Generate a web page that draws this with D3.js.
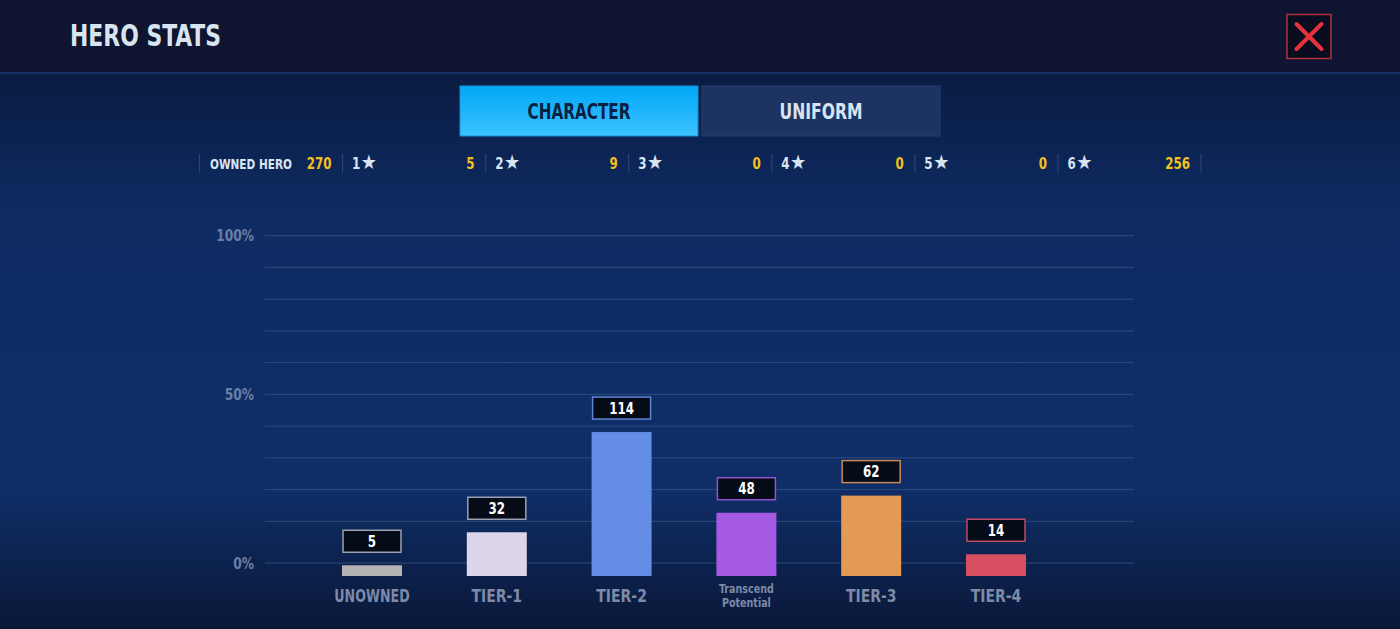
<!DOCTYPE html>
<html>
<head>
<meta charset="utf-8">
<script src="https://cdn.jsdelivr.net/npm/d3@7"></script>
<style>
  html, body { margin: 0; padding: 0; background: #0a1c42; overflow: hidden; }
  svg { display: block; }
  text { font-family: "DejaVu Sans Condensed", "Roboto", sans-serif; font-weight: bold; }
</style>
</head>
<body>
<svg id="chart" width="1400" height="629"></svg>
<script>
// ---------------- data ----------------
const categories = ["UNOWNED", "TIER-1", "TIER-2", "Transcend Potential", "TIER-3", "TIER-4"];
const counts = [5, 32, 114, 48, 62, 14];
const ownedTotal = 270;
const starLevels = ["1", "2", "3", "4", "5", "6"];
const starCounts = [5, 9, 0, 0, 0, 256];
const gridTicks = [0, 10, 20, 30, 40, 50, 60, 70, 80, 90, 100];
const yTickLabels = [0, 50, 100];
const tabs = ["CHARACTER", "UNIFORM"];

// ---------------- styles ----------------
const barColors = ["#b4b4b4", "#ddd5ea", "#648de6", "#a55ae3", "#e39a55", "#d94f62"];
const boxStroke = ["#9ea2ae", "#9aa0b8", "#5f86d6", "#8f55d0", "#c8885a", "#c04a60"];

const W = 1400, H = 629;
const svg = d3.select("#chart");
const defs = svg.append("defs");

// condense helper: the game font is narrower than the installed fonts
function narrow(sel, k) {
  sel.each(function () {
    const w = this.getComputedTextLength();
    d3.select(this).attr("textLength", w * k).attr("lengthAdjust", "spacingAndGlyphs");
  });
  return sel;
}

const bg = defs.append("linearGradient").attr("id", "bg").attr("x1", 0).attr("y1", 0).attr("x2", 0).attr("y2", 1);
[[0, "#0a1c42"], [0.25, "#0e2b62"], [0.75, "#0f2e68"], [0.83, "#0d2758"], [1, "#0a1838"]]
  .forEach(([o, c]) => bg.append("stop").attr("offset", o).attr("stop-color", c));

const tabG = defs.append("linearGradient").attr("id", "tabG").attr("x1", 0).attr("y1", 0).attr("x2", 0).attr("y2", 1);
[[0, "#00a8f6"], [1, "#3cc2ff"]].forEach(([o, c]) => tabG.append("stop").attr("offset", o).attr("stop-color", c));

// background
svg.append("rect").attr("x", 0).attr("y", 72).attr("width", W).attr("height", H - 72).attr("fill", "url(#bg)");
// header
svg.append("rect").attr("x", 0).attr("y", 0).attr("width", W).attr("height", 72).attr("fill", "#0f1430");
svg.append("rect").attr("x", 0).attr("y", 72).attr("width", W).attr("height", 2).attr("fill", "#15306a");
svg.append("text").attr("x", 70).attr("y", 45.5).attr("font-size", 30).attr("fill", "#d8e4f0")
  .attr("textLength", 151).attr("lengthAdjust", "spacingAndGlyphs").text("HERO STATS");

// close button
svg.append("rect").attr("x", 1287).attr("y", 14.5).attr("width", 44).attr("height", 44)
  .attr("fill", "#0a0d20").attr("stroke", "#b0303a").attr("stroke-width", 1.5);
const cx = 1309, cy = 36.5, r = 12.5;
svg.append("path").attr("d", `M${cx - r},${cy - r}L${cx + r},${cy + r}M${cx + r},${cy - r}L${cx - r},${cy + r}`)
  .attr("stroke", "#e5333b").attr("stroke-width", 4).attr("stroke-linecap", "round");

// tabs
const tabX = d3.scaleBand().domain(tabs).range([460, 940]).paddingInner(0.0166);
tabs.forEach((t, i) => {
  svg.append("rect").attr("x", tabX(t)).attr("y", 86).attr("width", tabX.bandwidth()).attr("height", 50)
    .attr("fill", i === 0 ? "url(#tabG)" : "#1d3462")
    .attr("stroke", i === 0 ? "#1a8fd0" : "#253f70").attr("stroke-width", 1);
  svg.append("text").attr("x", tabX(t) + tabX.bandwidth() / 2).attr("y", 119)
    .attr("text-anchor", "middle").attr("font-size", 22)
    .attr("fill", i === 0 ? "#0a2040" : "#d8e4f0")
    .attr("textLength", i === 0 ? 103 : 83).attr("lengthAdjust", "spacingAndGlyphs").text(t);
});

// stats row
const statX = d3.scaleLinear().domain([0, 7]).range([199.5, 1201]);
const sepColor = "#2b4272";
d3.range(8).forEach(i => {
  svg.append("line").attr("x1", statX(i)).attr("x2", statX(i)).attr("y1", 154).attr("y2", 173)
    .attr("stroke", sepColor).attr("stroke-width", 1.2);
});
svg.append("text").attr("x", statX(0) + 10.5).attr("y", 168.5).attr("font-size", 13.5).attr("fill", "#d8e4f0")
  .attr("textLength", 82).attr("lengthAdjust", "spacingAndGlyphs").text("OWNED HERO");
narrow(svg.append("text").attr("x", statX(1) - 11).attr("y", 169).attr("font-size", 16.5).attr("fill", "#f4c020")
  .attr("text-anchor", "end").text(ownedTotal), 0.8);
starLevels.forEach((s, i) => {
  const t = svg.append("text").attr("x", statX(i + 1) + 9.5).attr("y", 169).attr("fill", "#d8e4f0");
  narrow(t.append("tspan").attr("font-size", 16.5).text(s), 0.8);
  t.append("tspan").attr("font-size", 20).attr("dx", 0.5).text("★");
  narrow(svg.append("text").attr("x", statX(i + 2) - 11).attr("y", 169).attr("font-size", 16.5).attr("fill", "#f4c020")
    .attr("text-anchor", "end").text(starCounts[i]), 0.8);
});

// grid (decorative axis, 0% line sits lower than the 10% spacing)
const gridY = d3.scaleLinear().domain([0, 10, 100]).range([563, 521.3, 235.7]);
svg.append("g").selectAll("line").data(gridTicks).join("line")
  .attr("x1", 265).attr("x2", 1134)
  .attr("y1", d => gridY(d)).attr("y2", d => gridY(d))
  .attr("stroke", "#3a5586").attr("stroke-opacity", 0.75).attr("stroke-width", 1);
narrow(svg.append("g").selectAll("text").data(yTickLabels).join("text")
  .attr("x", 254).attr("y", d => gridY(d)).attr("dy", "0.36em")
  .attr("text-anchor", "end").attr("font-size", 16).attr("fill", "#6b7fa6")
  .text(d => d + "%"), 0.85);

// bars
const pct = counts.map(c => c / ownedTotal * 100);
const x = d3.scalePoint().domain(categories).range([372, 996]);
const barW = 60;
const y = d3.scaleLinear().domain([-1.4, 100]).range([576, 241.4]);
const base = y(-1.4);

const g = svg.append("g");
g.selectAll("rect.bar").data(categories).join("rect").attr("class", "bar")
  .attr("x", d => x(d) - barW / 2).attr("width", barW)
  .attr("y", (d, i) => y(pct[i])).attr("height", (d, i) => base - y(pct[i]))
  .attr("fill", (d, i) => barColors[i]);

// value label boxes
g.selectAll("rect.box").data(categories).join("rect").attr("class", "box")
  .attr("x", d => x(d) - 29).attr("width", 58)
  .attr("y", (d, i) => y(pct[i]) - 13 - 22).attr("height", 22)
  .attr("fill", "#060b18").attr("stroke", (d, i) => boxStroke[i]).attr("stroke-width", 1.5);
narrow(g.selectAll("text.val").data(categories).join("text").attr("class", "val")
  .attr("x", d => x(d)).attr("y", (d, i) => y(pct[i]) - 13 - 5.5)
  .attr("text-anchor", "middle").attr("font-size", 16.5).attr("fill", "#ffffff")
  .text((d, i) => counts[i]), 0.8);

// x labels
categories.forEach(c => {
  if (c === "Transcend Potential") {
    const t = svg.append("text").attr("x", x(c)).attr("text-anchor", "middle").attr("font-size", 12.5).attr("fill", "#7d8aa8");
    narrow(t.append("tspan").attr("x", x(c)).attr("y", 593).text("Transcend"), 0.85);
    narrow(t.append("tspan").attr("x", x(c)).attr("y", 607).text("Potential"), 0.85);
  } else {
    narrow(svg.append("text").attr("x", x(c)).attr("y", 601.5).attr("text-anchor", "middle")
      .attr("font-size", 18.5).attr("fill", "#7d8aa8").text(c), c === "UNOWNED" ? 0.76 : 0.84);
  }
});
</script>
</body>
</html>
